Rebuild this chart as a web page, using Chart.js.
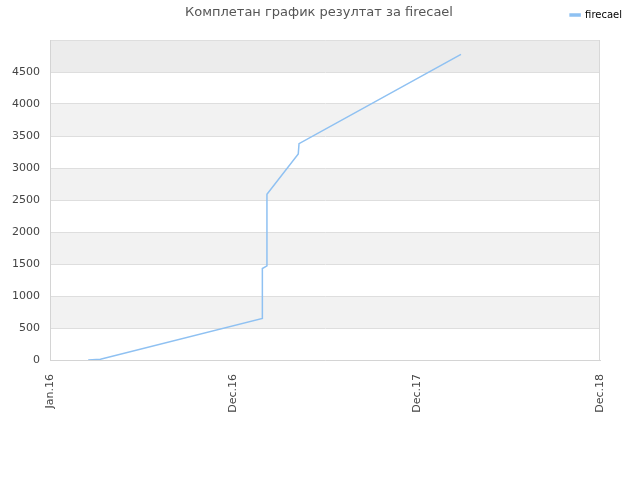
<!DOCTYPE html>
<html>
<head>
<meta charset="utf-8">
<script src="https://cdn.jsdelivr.net/npm/chart.js@4/dist/chart.umd.min.js"></script>
<style>
  html, body { margin: 0; padding: 0; background: #fff; }
  #wrap { width: 640px; height: 480px; }
</style>
</head>
<body>
<div id="wrap"><canvas id="chart" width="640" height="480"></canvas></div>
<script>
// Chart data (months since Jan.16, cumulative score)
const chartTitle = 'Комплетан график резултат за firecael';
const seriesName = 'firecael';
const monthIdx = [2.5, 3.3, 13.9, 13.9, 14.2, 14.2, 16.25, 16.3, 26.9];
const scores = [0, 12, 650, 1430, 1470, 2590, 3220, 3380, 4775];
const xTickPos = [0, 12, 24, 36];
const xTickLabels = ['Jan.16', 'Dec.16', 'Dec.17', 'Dec.18'];

// Alternating background bands, plot border, title
const bandPlugin = {
    id: 'bands',
    beforeDraw(chart) {
        const { ctx, chartArea, scales } = chart;
        const y = scales.y;
        ctx.save();
        for (let v = 500; v < 5000; v += 1000) {
            const top = y.getPixelForValue(v + 500);
            const bottom = y.getPixelForValue(v);
            ctx.fillStyle = v === 4500 ? '#ececec' : '#f2f2f2';
            ctx.fillRect(chartArea.left, top, chartArea.right - chartArea.left, bottom - top);
        }
        ctx.restore();
    },
    beforeDatasetsDraw(chart) {
        const { ctx, chartArea } = chart;
        ctx.save();
        ctx.strokeStyle = '#d8d8d8';
        ctx.lineWidth = 1;
        ctx.beginPath();
        ctx.moveTo(Math.round(chartArea.right) - 0.5, chartArea.top);
        ctx.lineTo(Math.round(chartArea.right) - 0.5, chartArea.bottom);
        ctx.stroke();
        ctx.restore();
    },
    afterDraw(chart) {
        const ctx = chart.ctx;
        ctx.save();
        ctx.font = '13px "DejaVu Sans"';
        ctx.fillStyle = '#555';
        ctx.textAlign = 'center';
        ctx.textBaseline = 'middle';
        ctx.fillText(chartTitle, 319, 13);
        ctx.restore();
    }
};

const ctx = document.getElementById('chart').getContext('2d');
new Chart(ctx, {
    type: 'line',
    data: {
        datasets: [{
            label: seriesName,
            data: monthIdx.map((m, i) => ({ x: m, y: scores[i] })),
            borderColor: '#8fc1f2',
            backgroundColor: '#8fc1f2',
            borderWidth: 1.5,
            pointRadius: 0,
            tension: 0,
            fill: false
        }]
    },
    options: {
        responsive: false,
        animation: false,
        layout: { padding: { left: 0, right: 12, top: 4, bottom: 0 } },
        plugins: {
            legend: {
                position: 'top',
                align: 'end',
                labels: {
                    boxWidth: 10,
                    boxHeight: 2,
                    color: '#000',
                    font: { family: 'DejaVu Sans', size: 10 },
                    padding: 6
                }
            },
            tooltip: { enabled: false }
        },
        scales: {
            x: {
                type: 'linear',
                min: 0,
                max: 36,
                afterBuildTicks: s => { s.ticks = xTickPos.map(v => ({ value: v })); },
                afterFit: s => { s.height = 120; },
                ticks: {
                    callback: (v) => xTickLabels[xTickPos.indexOf(v)],
                    maxRotation: 90,
                    minRotation: 90,
                    padding: 14,
                    color: '#444',
                    font: { family: 'DejaVu Sans', size: 11 }
                },
                grid: { display: false, drawTicks: false },
                border: { color: '#d4d4d4' }
            },
            y: {
                min: 0,
                max: 5000,
                afterFit: s => { s.width = 50; },
                ticks: {
                    stepSize: 500,
                    padding: 10,
                    color: '#444',
                    font: { family: 'DejaVu Sans', size: 11 },
                    callback: v => v === 5000 ? '' : v
                },
                grid: { color: '#dedede', drawTicks: false },
                border: { color: '#d4d4d4' }
            },
            // spacer axes to place the plot area
            r: {
                type: 'linear',
                position: 'right',
                afterFit: s => { s.width = 28; },
                ticks: { display: false },
                grid: { display: false, drawTicks: false },
                border: { display: false }
            },
            t: {
                type: 'linear',
                position: 'top',
                afterFit: s => { s.height = 10; },
                ticks: { display: false },
                grid: { display: false, drawTicks: false },
                border: { display: false }
            }
        }
    },
    plugins: [bandPlugin]
});
</script>
</body>
</html>
